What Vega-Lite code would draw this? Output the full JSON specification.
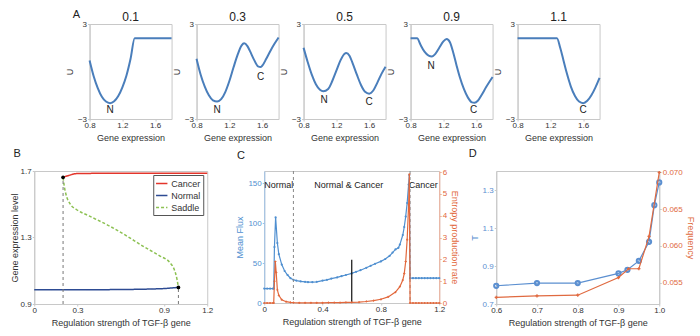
{
  "$schema": "https://vega.github.io/schema/vega-lite/v6.json",
  "padding": {"top": 8, "left": 9, "right": 5, "bottom": 3},
  "config": {
    "font": "Liberation Sans",
    "view": {"stroke": "#c8c8c8"},
    "axis": {"grid": false, "labelFontSize": 8, "titleFontSize": 9, "titleFontWeight": "normal", "labelColor": "#333", "titleColor": "#333", "domainColor": "#c8c8c8", "tickColor": "#c8c8c8", "tickSize": 2, "labelOverlap": false, "labelFlush": false, "labelPadding": 1, "titlePadding": 3, "labelSeparation": 0},
    "axisX": {"labelPadding": 0, "titlePadding": 4},
    "text": {"font": "Liberation Sans"}
  },
  "datasets": {
    "pot": [
      {"p": "0.1", "x": 0.8, "u": 0.7}, {"p": "0.1", "x": 0.85, "u": -0.3}, {"p": "0.1", "x": 0.9, "u": -1.05}, {"p": "0.1", "x": 0.95, "u": -1.6}, {"p": "0.1", "x": 1.0, "u": -1.9}, {"p": "0.1", "x": 1.05, "u": -2.0}, {"p": "0.1", "x": 1.1, "u": -1.88}, {"p": "0.1", "x": 1.15, "u": -1.55}, {"p": "0.1", "x": 1.2, "u": -1.0}, {"p": "0.1", "x": 1.25, "u": -0.25}, {"p": "0.1", "x": 1.3, "u": 0.8}, {"p": "0.1", "x": 1.35, "u": 2.1}, {"p": "0.1", "x": 1.4, "u": 2.1}, {"p": "0.1", "x": 1.8, "u": 2.1},
      {"p": "0.3", "x": 0.8, "u": 0.8}, {"p": "0.3", "x": 0.85, "u": -0.2}, {"p": "0.3", "x": 0.9, "u": -0.95}, {"p": "0.3", "x": 0.95, "u": -1.5}, {"p": "0.3", "x": 1.0, "u": -1.82}, {"p": "0.3", "x": 1.05, "u": -1.9}, {"p": "0.3", "x": 1.1, "u": -1.75}, {"p": "0.3", "x": 1.15, "u": -1.3}, {"p": "0.3", "x": 1.2, "u": -0.6}, {"p": "0.3", "x": 1.25, "u": 0.25}, {"p": "0.3", "x": 1.3, "u": 1.05}, {"p": "0.3", "x": 1.35, "u": 1.65}, {"p": "0.3", "x": 1.38, "u": 1.78}, {"p": "0.3", "x": 1.42, "u": 1.6}, {"p": "0.3", "x": 1.45, "u": 1.3}, {"p": "0.3", "x": 1.5, "u": 0.75}, {"p": "0.3", "x": 1.55, "u": 0.32}, {"p": "0.3", "x": 1.58, "u": 0.28}, {"p": "0.3", "x": 1.6, "u": 0.36}, {"p": "0.3", "x": 1.65, "u": 0.8}, {"p": "0.3", "x": 1.7, "u": 1.3}, {"p": "0.3", "x": 1.75, "u": 1.75}, {"p": "0.3", "x": 1.8, "u": 2.15},
      {"p": "0.5", "x": 0.8, "u": 1.5}, {"p": "0.5", "x": 0.85, "u": 0.6}, {"p": "0.5", "x": 0.9, "u": -0.2}, {"p": "0.5", "x": 0.95, "u": -0.8}, {"p": "0.5", "x": 1.0, "u": -1.15}, {"p": "0.5", "x": 1.04, "u": -1.25}, {"p": "0.5", "x": 1.1, "u": -1.1}, {"p": "0.5", "x": 1.15, "u": -0.6}, {"p": "0.5", "x": 1.2, "u": 0.05}, {"p": "0.5", "x": 1.25, "u": 0.7}, {"p": "0.5", "x": 1.3, "u": 1.12}, {"p": "0.5", "x": 1.32, "u": 1.17}, {"p": "0.5", "x": 1.36, "u": 1.0}, {"p": "0.5", "x": 1.4, "u": 0.5}, {"p": "0.5", "x": 1.45, "u": -0.2}, {"p": "0.5", "x": 1.5, "u": -0.85}, {"p": "0.5", "x": 1.55, "u": -1.28}, {"p": "0.5", "x": 1.6, "u": -1.4}, {"p": "0.5", "x": 1.65, "u": -1.2}, {"p": "0.5", "x": 1.7, "u": -0.7}, {"p": "0.5", "x": 1.75, "u": -0.15}, {"p": "0.5", "x": 1.8, "u": 0.3},
      {"p": "0.9", "x": 0.8, "u": 2.1}, {"p": "0.9", "x": 0.88, "u": 2.1}, {"p": "0.9", "x": 0.92, "u": 1.7}, {"p": "0.9", "x": 0.97, "u": 1.25}, {"p": "0.9", "x": 1.02, "u": 1.0}, {"p": "0.9", "x": 1.06, "u": 0.95}, {"p": "0.9", "x": 1.1, "u": 1.1}, {"p": "0.9", "x": 1.15, "u": 1.5}, {"p": "0.9", "x": 1.2, "u": 1.9}, {"p": "0.9", "x": 1.24, "u": 2.05}, {"p": "0.9", "x": 1.28, "u": 1.85}, {"p": "0.9", "x": 1.32, "u": 1.2}, {"p": "0.9", "x": 1.36, "u": 0.4}, {"p": "0.9", "x": 1.4, "u": -0.35}, {"p": "0.9", "x": 1.45, "u": -1.1}, {"p": "0.9", "x": 1.5, "u": -1.65}, {"p": "0.9", "x": 1.55, "u": -1.95}, {"p": "0.9", "x": 1.58, "u": -1.97}, {"p": "0.9", "x": 1.62, "u": -1.85}, {"p": "0.9", "x": 1.67, "u": -1.45}, {"p": "0.9", "x": 1.72, "u": -1.0}, {"p": "0.9", "x": 1.8, "u": -0.35},
      {"p": "1.1", "x": 0.8, "u": 2.1}, {"p": "1.1", "x": 1.28, "u": 2.1}, {"p": "1.1", "x": 1.32, "u": 1.5}, {"p": "1.1", "x": 1.36, "u": 0.7}, {"p": "1.1", "x": 1.4, "u": -0.1}, {"p": "1.1", "x": 1.45, "u": -0.95}, {"p": "1.1", "x": 1.5, "u": -1.55}, {"p": "1.1", "x": 1.55, "u": -1.9}, {"p": "1.1", "x": 1.6, "u": -2.0}, {"p": "1.1", "x": 1.65, "u": -1.85}, {"p": "1.1", "x": 1.7, "u": -1.5}, {"p": "1.1", "x": 1.75, "u": -1.0}, {"p": "1.1", "x": 1.8, "u": -0.4}
    ],
    "lab": [
      {"p": "0.1", "x": 1.05, "u": -2.45, "t": "N"},
      {"p": "0.3", "x": 1.05, "u": -2.4, "t": "N"}, {"p": "0.3", "x": 1.58, "u": -0.35, "t": "C"},
      {"p": "0.5", "x": 1.05, "u": -1.8, "t": "N"}, {"p": "0.5", "x": 1.6, "u": -1.95, "t": "C"},
      {"p": "0.9", "x": 1.05, "u": 0.35, "t": "N"}, {"p": "0.9", "x": 1.57, "u": -2.45, "t": "C"},
      {"p": "1.1", "x": 1.6, "u": -2.45, "t": "C"}
    ],
    "bLines": [
      {"s": "Cancer", "r": 0.2, "g": 1.662}, {"s": "Cancer", "r": 0.25, "g": 1.676}, {"s": "Cancer", "r": 0.3, "g": 1.685}, {"s": "Cancer", "r": 0.5, "g": 1.686}, {"s": "Cancer", "r": 1.2, "g": 1.686},
      {"s": "Normal", "r": 0.0, "g": 0.985}, {"s": "Normal", "r": 0.2, "g": 0.985}, {"s": "Normal", "r": 0.4, "g": 0.986}, {"s": "Normal", "r": 0.6, "g": 0.987}, {"s": "Normal", "r": 0.8, "g": 0.99}, {"s": "Normal", "r": 0.9, "g": 0.993}, {"s": "Normal", "r": 0.95, "g": 0.996}, {"s": "Normal", "r": 1.0, "g": 1.0},
      {"s": "Saddle", "r": 0.2, "g": 1.66}, {"s": "Saddle", "r": 0.21, "g": 1.6}, {"s": "Saddle", "r": 0.22, "g": 1.56}, {"s": "Saddle", "r": 0.25, "g": 1.5}, {"s": "Saddle", "r": 0.29, "g": 1.47}, {"s": "Saddle", "r": 0.38, "g": 1.43}, {"s": "Saddle", "r": 0.52, "g": 1.37}, {"s": "Saddle", "r": 0.64, "g": 1.31}, {"s": "Saddle", "r": 0.75, "g": 1.25}, {"s": "Saddle", "r": 0.87, "g": 1.19}, {"s": "Saddle", "r": 0.94, "g": 1.15}, {"s": "Saddle", "r": 0.97, "g": 1.11}, {"s": "Saddle", "r": 0.99, "g": 1.05}, {"s": "Saddle", "r": 1.0, "g": 1.0}
    ],
    "bDots": [{"r": 0.2, "g": 1.662}, {"r": 1.0, "g": 1.0}],
    "cFlux": [
      {"r": 0.0, "v": 18}, {"r": 0.02, "v": 18}, {"r": 0.04, "v": 18}, {"r": 0.06, "v": 18}, {"r": 0.065, "v": 18}, {"r": 0.07, "v": 70}, {"r": 0.078, "v": 107}, {"r": 0.09, "v": 75}, {"r": 0.1, "v": 61}, {"r": 0.12, "v": 48}, {"r": 0.14, "v": 40}, {"r": 0.16, "v": 35}, {"r": 0.18, "v": 31}, {"r": 0.2, "v": 29}, {"r": 0.22, "v": 28}, {"r": 0.25, "v": 27}, {"r": 0.28, "v": 26.5}, {"r": 0.3, "v": 26}, {"r": 0.33, "v": 26}, {"r": 0.36, "v": 26.5}, {"r": 0.4, "v": 28}, {"r": 0.43, "v": 29}, {"r": 0.46, "v": 30.5}, {"r": 0.5, "v": 32}, {"r": 0.53, "v": 33.5}, {"r": 0.56, "v": 35}, {"r": 0.6, "v": 37}, {"r": 0.63, "v": 39}, {"r": 0.66, "v": 41}, {"r": 0.7, "v": 44}, {"r": 0.73, "v": 46.5}, {"r": 0.76, "v": 49}, {"r": 0.8, "v": 52}, {"r": 0.83, "v": 55}, {"r": 0.86, "v": 59}, {"r": 0.88, "v": 63}, {"r": 0.9, "v": 67}, {"r": 0.92, "v": 69}, {"r": 0.93, "v": 73}, {"r": 0.95, "v": 85}, {"r": 0.96, "v": 95}, {"r": 0.97, "v": 108}, {"r": 0.98, "v": 125}, {"r": 0.99, "v": 148}, {"r": 0.995, "v": 160}, {"r": 1.0, "v": 31}, {"r": 1.02, "v": 31}, {"r": 1.04, "v": 31}, {"r": 1.06, "v": 31}, {"r": 1.08, "v": 31}, {"r": 1.1, "v": 31}, {"r": 1.12, "v": 31}, {"r": 1.14, "v": 31}, {"r": 1.16, "v": 31}, {"r": 1.18, "v": 31}, {"r": 1.2, "v": 31}
    ],
    "cEnt": [
      {"r": 0.0, "v": 0}, {"r": 0.02, "v": 0}, {"r": 0.04, "v": 0}, {"r": 0.06, "v": 0}, {"r": 0.065, "v": 0}, {"r": 0.07, "v": 1.0}, {"r": 0.076, "v": 1.9}, {"r": 0.082, "v": 1.4}, {"r": 0.09, "v": 0.6}, {"r": 0.1, "v": 0.35}, {"r": 0.12, "v": 0.15}, {"r": 0.15, "v": 0.06}, {"r": 0.18, "v": 0.03}, {"r": 0.2, "v": 0.02}, {"r": 0.24, "v": 0.01}, {"r": 0.28, "v": 0.01}, {"r": 0.32, "v": 0.01}, {"r": 0.36, "v": 0.01}, {"r": 0.4, "v": 0.01}, {"r": 0.44, "v": 0.015}, {"r": 0.48, "v": 0.02}, {"r": 0.52, "v": 0.02}, {"r": 0.56, "v": 0.025}, {"r": 0.6, "v": 0.03}, {"r": 0.65, "v": 0.04}, {"r": 0.7, "v": 0.07}, {"r": 0.75, "v": 0.11}, {"r": 0.8, "v": 0.17}, {"r": 0.85, "v": 0.28}, {"r": 0.9, "v": 0.5}, {"r": 0.93, "v": 0.75}, {"r": 0.95, "v": 1.05}, {"r": 0.96, "v": 1.35}, {"r": 0.97, "v": 1.9}, {"r": 0.98, "v": 2.9}, {"r": 0.99, "v": 4.5}, {"r": 0.995, "v": 5.9}, {"r": 1.0, "v": 0}, {"r": 1.02, "v": 0}, {"r": 1.04, "v": 0}, {"r": 1.06, "v": 0}, {"r": 1.08, "v": 0}, {"r": 1.1, "v": 0}, {"r": 1.12, "v": 0}, {"r": 1.14, "v": 0}, {"r": 1.16, "v": 0}, {"r": 1.18, "v": 0}, {"r": 1.2, "v": 0}
    ],
    "dT": [
      {"r": 0.6, "v": 0.796}, {"r": 0.7, "v": 0.81}, {"r": 0.8, "v": 0.81}, {"r": 0.9, "v": 0.861}, {"r": 0.922, "v": 0.88}, {"r": 0.95, "v": 0.927}, {"r": 0.975, "v": 1.027}, {"r": 0.988, "v": 1.22}, {"r": 1.0, "v": 1.34}
    ],
    "dF": [
      {"r": 0.6, "v": 0.0530}, {"r": 0.7, "v": 0.0532}, {"r": 0.8, "v": 0.0533}, {"r": 0.9, "v": 0.0557}, {"r": 0.925, "v": 0.0569}, {"r": 0.95, "v": 0.0569}, {"r": 0.975, "v": 0.0613}, {"r": 1.0, "v": 0.0700}
    ]
  },
  "resolve": {"legend": {"color": "independent", "strokeDash": "independent"}},
  "vconcat": [
    {
      "bounds": "flush",
      "spacing": 25,
      "hconcat": [
        {
          "width": 82, "height": 95,
          "layer": [
            {"data": {"name": "pot"}, "transform": [{"filter": "datum.p == '0.1'"}], "mark": {"type": "line", "color": "#4a7ebb", "strokeWidth": 2, "interpolate": "monotone"},
             "encoding": {"x": {"field": "x", "type": "quantitative", "scale": {"domain": [0.8, 1.8], "nice": false}, "axis": {"values": [0.8, 1, 1.2, 1.4, 1.6, 1.8], "format": ".1f", "title": "Gene expression", "labelOverlap": false}},
                          "y": {"field": "u", "type": "quantitative", "scale": {"domain": [-3, 3], "nice": false}, "axis": {"values": [-3, -2, -1, 0, 1, 2, 3], "title": "U", "labelOverlap": false}}}},
            {"data": {"name": "lab"}, "transform": [{"filter": "datum.p == '0.1'"}], "mark": {"type": "text", "fontSize": 10, "color": "#222"},
             "encoding": {"x": {"field": "x", "type": "quantitative"}, "y": {"field": "u", "type": "quantitative"}, "text": {"field": "t"}}},
            {"data": {"values": [{"p": "0.1"}]}, "mark": {"type": "text", "fontSize": 12, "color": "#222"},
             "encoding": {"x": {"datum": 1.3}, "y": {"datum": 3.45}, "text": {"field": "p"}}},
            {"data": {"values": [{}]}, "mark": {"type": "text", "fontSize": 11, "color": "#222"},
             "encoding": {"x": {"datum": 0.64}, "y": {"datum": 3.6}, "text": {"value": "A"}}}
          ]
        },
        {
          "width": 82, "height": 95,
          "layer": [
            {"data": {"name": "pot"}, "transform": [{"filter": "datum.p == '0.3'"}], "mark": {"type": "line", "color": "#4a7ebb", "strokeWidth": 2, "interpolate": "monotone"},
             "encoding": {"x": {"field": "x", "type": "quantitative", "scale": {"domain": [0.8, 1.8], "nice": false}, "axis": {"values": [0.8, 1, 1.2, 1.4, 1.6, 1.8], "format": ".1f", "title": "Gene expression", "labelOverlap": false}},
                          "y": {"field": "u", "type": "quantitative", "scale": {"domain": [-3, 3], "nice": false}, "axis": {"values": [-3, -2, -1, 0, 1, 2, 3], "title": "U", "labelOverlap": false}}}},
            {"data": {"name": "lab"}, "transform": [{"filter": "datum.p == '0.3'"}], "mark": {"type": "text", "fontSize": 10, "color": "#222"},
             "encoding": {"x": {"field": "x", "type": "quantitative"}, "y": {"field": "u", "type": "quantitative"}, "text": {"field": "t"}}},
            {"data": {"values": [{"p": "0.3"}]}, "mark": {"type": "text", "fontSize": 12, "color": "#222"},
             "encoding": {"x": {"datum": 1.3}, "y": {"datum": 3.45}, "text": {"field": "p"}}}
          ]
        },
        {
          "width": 82, "height": 95,
          "layer": [
            {"data": {"name": "pot"}, "transform": [{"filter": "datum.p == '0.5'"}], "mark": {"type": "line", "color": "#4a7ebb", "strokeWidth": 2, "interpolate": "monotone"},
             "encoding": {"x": {"field": "x", "type": "quantitative", "scale": {"domain": [0.8, 1.8], "nice": false}, "axis": {"values": [0.8, 1, 1.2, 1.4, 1.6, 1.8], "format": ".1f", "title": "Gene expression", "labelOverlap": false}},
                          "y": {"field": "u", "type": "quantitative", "scale": {"domain": [-3, 3], "nice": false}, "axis": {"values": [-3, -2, -1, 0, 1, 2, 3], "title": "U", "labelOverlap": false}}}},
            {"data": {"name": "lab"}, "transform": [{"filter": "datum.p == '0.5'"}], "mark": {"type": "text", "fontSize": 10, "color": "#222"},
             "encoding": {"x": {"field": "x", "type": "quantitative"}, "y": {"field": "u", "type": "quantitative"}, "text": {"field": "t"}}},
            {"data": {"values": [{"p": "0.5"}]}, "mark": {"type": "text", "fontSize": 12, "color": "#222"},
             "encoding": {"x": {"datum": 1.3}, "y": {"datum": 3.45}, "text": {"field": "p"}}}
          ]
        },
        {
          "width": 82, "height": 95,
          "layer": [
            {"data": {"name": "pot"}, "transform": [{"filter": "datum.p == '0.9'"}], "mark": {"type": "line", "color": "#4a7ebb", "strokeWidth": 2, "interpolate": "monotone"},
             "encoding": {"x": {"field": "x", "type": "quantitative", "scale": {"domain": [0.8, 1.8], "nice": false}, "axis": {"values": [0.8, 1, 1.2, 1.4, 1.6, 1.8], "format": "~g", "title": "Gene expression", "labelOverlap": false}},
                          "y": {"field": "u", "type": "quantitative", "scale": {"domain": [-3, 3], "nice": false}, "axis": {"values": [-3, -2, -1, 0, 1, 2, 3], "title": "U", "labelOverlap": false}}}},
            {"data": {"name": "lab"}, "transform": [{"filter": "datum.p == '0.9'"}], "mark": {"type": "text", "fontSize": 10, "color": "#222"},
             "encoding": {"x": {"field": "x", "type": "quantitative"}, "y": {"field": "u", "type": "quantitative"}, "text": {"field": "t"}}},
            {"data": {"values": [{"p": "0.9"}]}, "mark": {"type": "text", "fontSize": 12, "color": "#222"},
             "encoding": {"x": {"datum": 1.3}, "y": {"datum": 3.45}, "text": {"field": "p"}}}
          ]
        },
        {
          "width": 82, "height": 95,
          "layer": [
            {"data": {"name": "pot"}, "transform": [{"filter": "datum.p == '1.1'"}], "mark": {"type": "line", "color": "#4a7ebb", "strokeWidth": 2, "interpolate": "monotone"},
             "encoding": {"x": {"field": "x", "type": "quantitative", "scale": {"domain": [0.8, 1.8], "nice": false}, "axis": {"values": [0.8, 1, 1.2, 1.4, 1.6, 1.8], "format": "~g", "title": "Gene expression", "labelOverlap": false}},
                          "y": {"field": "u", "type": "quantitative", "scale": {"domain": [-3, 3], "nice": false}, "axis": {"values": [-3, -2, -1, 0, 1, 2, 3], "title": "U", "labelOverlap": false}}}},
            {"data": {"name": "lab"}, "transform": [{"filter": "datum.p == '1.1'"}], "mark": {"type": "text", "fontSize": 10, "color": "#222"},
             "encoding": {"x": {"field": "x", "type": "quantitative"}, "y": {"field": "u", "type": "quantitative"}, "text": {"field": "t"}}},
            {"data": {"values": [{"p": "1.1"}]}, "mark": {"type": "text", "fontSize": 12, "color": "#222"},
             "encoding": {"x": {"datum": 1.3}, "y": {"datum": 3.45}, "text": {"field": "p"}}},
            {"data": {"values": [{}]}, "mark": {"type": "rule", "strokeOpacity": 0},
             "encoding": {"x": {"datum": 1.8}, "x2": {"datum": 2.28}, "y": {"datum": 0}}}
          ]
        }
      ]
    },
    {
      "bounds": "flush",
      "spacing": 57,
      "resolve": {"legend": {"color": "independent", "strokeDash": "independent"}},
      "hconcat": [
        {
          "width": 173, "height": 133,
          "layer": [
            {"data": {"name": "bLines"}, "mark": {"type": "line", "strokeWidth": 1.5, "interpolate": "monotone"},
             "encoding": {"x": {"field": "r", "type": "quantitative", "scale": {"domain": [0, 1.2], "nice": false}, "axis": {"values": [0, 0.2, 0.3, 0.6, 0.9, 1.0, 1.2], "labelExpr": "datum.value == 0 ? '0' : format(datum.value, '.1f')", "title": "Regulation strength of TGF-β gene", "labelOverlap": false}},
                          "y": {"field": "g", "type": "quantitative", "scale": {"domain": [0.9, 1.7], "nice": false}, "axis": {"values": [0.9, 1.1, 1.3, 1.5, 1.7], "format": ".1f", "title": "Gene expression level", "labelOverlap": false, "titlePadding": 1}},
                          "color": {"field": "s", "type": "nominal", "scale": {"domain": ["Cancer", "Normal", "Saddle"], "range": ["#e3352b", "#2d4b93", "#8cc152"]}, "legend": {"title": null, "orient": "top-right", "offset": 4, "strokeColor": "#555", "fillColor": "white", "padding": 2, "labelFontSize": 9, "symbolType": "M-1,0H1", "symbolSize": 130, "symbolStrokeWidth": 1.5, "rowPadding": 0, "labelOffset": 3, "labelColor": "#333"}},
                          "strokeDash": {"field": "s", "type": "nominal", "scale": {"domain": ["Cancer", "Normal", "Saddle"], "range": [[1, 0], [1, 0], [3, 2]]}, "legend": {"title": null, "orient": "top-right", "offset": 4, "strokeColor": "#555", "fillColor": "white", "padding": 2, "labelFontSize": 9, "symbolType": "M-1,0H1", "symbolSize": 130, "symbolStrokeWidth": 1.5, "rowPadding": 0, "labelOffset": 3, "labelColor": "#333"}}}},
            {"data": {"values": [{}]}, "mark": {"type": "rule", "strokeDash": [3, 3], "color": "#777", "strokeWidth": 1},
             "encoding": {"x": {"datum": 0.2, "type": "quantitative"}, "y": {"datum": 0.9, "type": "quantitative"}, "y2": {"datum": 1.662}}},
            {"data": {"values": [{}]}, "mark": {"type": "rule", "strokeDash": [3, 3], "color": "#777", "strokeWidth": 1},
             "encoding": {"x": {"datum": 1.0, "type": "quantitative"}, "y": {"datum": 0.9, "type": "quantitative"}, "y2": {"datum": 1.0}}},
            {"data": {"name": "bDots"}, "mark": {"type": "point", "filled": true, "color": "black", "size": 14, "opacity": 1},
             "encoding": {"x": {"field": "r", "type": "quantitative"}, "y": {"field": "g", "type": "quantitative"}}},
            {"data": {"values": [{}]}, "mark": {"type": "text", "fontSize": 11, "color": "#222"},
             "encoding": {"x": {"datum": -0.118, "type": "quantitative"}, "y": {"datum": 1.8, "type": "quantitative"}, "text": {"value": "B"}}}
          ]
        },
        {
          "width": 175, "height": 132,
          "resolve": {"scale": {"y": "independent"}},
          "layer": [
            {
              "layer": [
                {"data": {"name": "cFlux"}, "mark": {"type": "line", "color": "#4f8fd0", "strokeWidth": 1.2, "point": {"size": 5, "color": "#4f8fd0"}},
                 "encoding": {"x": {"field": "r", "type": "quantitative", "scale": {"domain": [0, 1.2], "nice": false}, "axis": {"values": [0, 0.2, 0.4, 0.6, 0.8, 1.0, 1.2], "labelExpr": "datum.value == 0 ? '0' : format(datum.value, '.1f')", "title": "Regulation strength of TGF-β gene", "labelOverlap": false}},
                              "y": {"field": "v", "type": "quantitative", "scale": {"domain": [0, 165], "nice": false}, "axis": {"values": [0, 50, 100, 150], "title": "Mean Flux", "titleColor": "#4f8fd0", "labelColor": "#4f8fd0", "domainColor": "#9cc0e6", "tickColor": "#9cc0e6", "labelOverlap": false}}}},
                {"data": {"values": [{}]}, "mark": {"type": "rule", "strokeDash": [3, 3], "color": "#888", "strokeWidth": 1},
                 "encoding": {"x": {"datum": 0.2, "type": "quantitative"}}},
                {"data": {"values": [{}]}, "mark": {"type": "rule", "strokeDash": [3, 3], "color": "#888", "strokeWidth": 1},
                 "encoding": {"x": {"datum": 1.0, "type": "quantitative"}}},
                {"data": {"values": [{}]}, "mark": {"type": "rule", "color": "#111", "strokeWidth": 1.2},
                 "encoding": {"x": {"datum": 0.6, "type": "quantitative"}, "y": {"datum": 0, "type": "quantitative"}, "y2": {"datum": 54}}},
                {"data": {"values": [{"t": "Normal", "r": 0.1}, {"t": "Normal & Cancer", "r": 0.58}, {"t": "Cancer", "r": 1.09}]}, "mark": {"type": "text", "fontSize": 9, "color": "#222"},
                 "encoding": {"x": {"field": "r", "type": "quantitative"}, "y": {"datum": 148, "type": "quantitative"}, "text": {"field": "t"}}},
                {"data": {"values": [{}]}, "mark": {"type": "text", "fontSize": 11, "color": "#222"},
                 "encoding": {"x": {"datum": -0.16, "type": "quantitative"}, "y": {"datum": 184, "type": "quantitative"}, "text": {"value": "C"}}}
              ]
            },
            {"data": {"name": "cEnt"}, "mark": {"type": "line", "color": "#e2683c", "strokeWidth": 1.2, "point": {"size": 5, "color": "#e2683c", "shape": "cross"}},
             "encoding": {"x": {"field": "r", "type": "quantitative"},
                          "y": {"field": "v", "type": "quantitative", "scale": {"domain": [0, 6.05], "nice": false}, "axis": {"orient": "right", "values": [0, 1, 2, 3, 4, 5, 6], "title": "Entropy production rate", "titleColor": "#e2683c", "labelColor": "#e2683c", "domainColor": "#f0b09a", "tickColor": "#f0b09a", "labelOverlap": false}}}}
          ]
        },
        {
          "width": 163, "height": 133,
          "resolve": {"scale": {"y": "independent"}},
          "layer": [
            {
              "layer": [
                {"data": {"name": "dT"}, "mark": {"type": "line", "color": "#5b8fd0", "strokeWidth": 1.2, "point": {"size": 18, "filled": false, "color": "#5b8fd0"}},
                 "encoding": {"x": {"field": "r", "type": "quantitative", "scale": {"domain": [0.6, 1.0], "nice": false}, "axis": {"values": [0.6, 0.7, 0.8, 0.9, 1.0], "format": ".1f", "title": "Regulation strength of TGF-β gene", "labelOverlap": false}},
                              "y": {"field": "v", "type": "quantitative", "scale": {"domain": [0.7, 1.4], "nice": false}, "axis": {"values": [0.7, 0.8, 0.9, 1.0, 1.1, 1.2, 1.3, 1.4], "format": ".1f", "title": "T", "titleColor": "#5b8fd0", "labelColor": "#5b8fd0", "labelOverlap": false}}}},
                {"data": {"values": [{}]}, "mark": {"type": "text", "fontSize": 11, "color": "#222"},
                 "encoding": {"x": {"datum": 0.542, "type": "quantitative"}, "y": {"datum": 1.487, "type": "quantitative"}, "text": {"value": "D"}}}
              ]
            },
            {"data": {"name": "dF"}, "mark": {"type": "line", "color": "#e06a40", "strokeWidth": 1.2, "point": {"size": 10, "color": "#e06a40", "shape": "cross"}},
             "encoding": {"x": {"field": "r", "type": "quantitative"},
                          "y": {"field": "v", "type": "quantitative", "scale": {"domain": [0.0521, 0.0702], "nice": false}, "axis": {"orient": "right", "values": [0.055, 0.06, 0.065, 0.07], "format": ".3f", "title": "Frequency", "titleColor": "#e06a40", "labelColor": "#e06a40", "labelOverlap": false}}}}
          ]
        }
      ]
    }
  ],
  "spacing": 4,
  "center": true
}
